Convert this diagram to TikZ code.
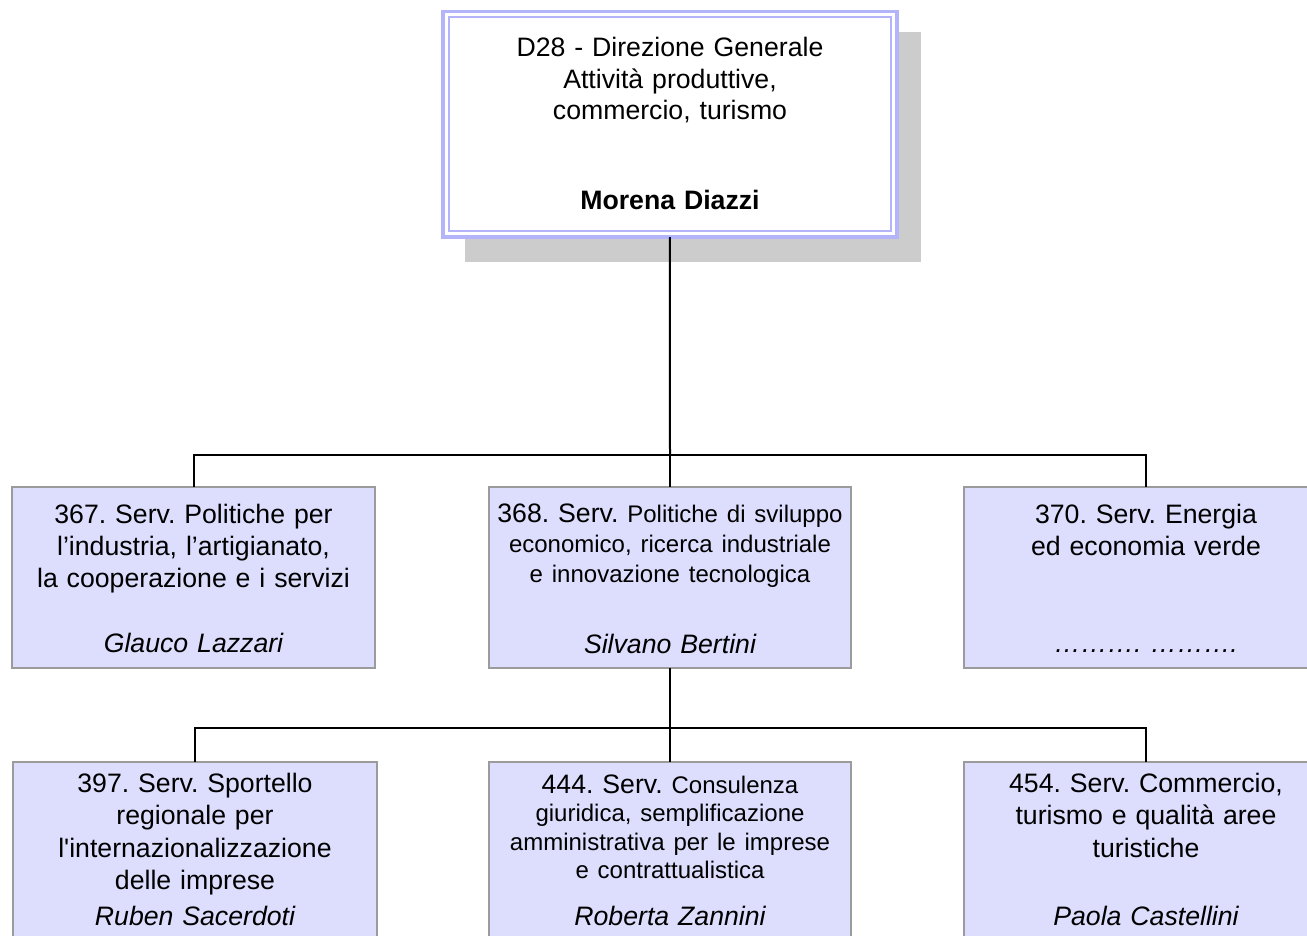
\documentclass[tikz,border=0pt]{standalone}
\usepackage{fontspec}
\newfontfamily\af{Liberation Sans}
\definecolor{boxfill}{RGB}{221,221,253}
\definecolor{boxline}{RGB}{155,155,155}
\definecolor{topline}{RGB}{180,180,250}
\definecolor{shade}{RGB}{204,204,204}
\frenchspacing
\begin{document}
\begin{tikzpicture}[x=1pt,y=-1pt,
  svcbox/.style={draw=boxline, line width=2pt, fill=boxfill, minimum width=#1, minimum height=181, inner sep=0, outer sep=0},
  lowbox/.style={draw=boxline, line width=2pt, fill=boxfill, minimum width=#1, minimum height=182, inner sep=0, outer sep=0},
  topbox/.style={draw=topline, line width=3.5pt, fill=white, minimum width=454, minimum height=225.5, inner sep=0, outer sep=0},
  shadowbox/.style={fill=shade, minimum width=456, minimum height=230, inner sep=0, outer sep=0},
  conn/.style={line width=2pt, black},
  txt/.style={font=\af\frenchspacing\fontsize{26.67}{32}\selectfont, align=center, text width=360pt, inner sep=0, anchor=base},
  txtb/.style={txt, font=\af\frenchspacing\fontsize{26.67}{32.5}\selectfont},
  who/.style={txt, font=\af\itshape\fontsize{26.67}{32}\selectfont},
]
\useasboundingbox (0,0) rectangle (1307,936);
\clip (0,0) rectangle (1307,936);
\fill[white] (0,0) rectangle (1307,936);

% shadow and top box
\node[shadowbox] (shadow) at (693,147) {};
\node[topbox] (top) at (669.75,124.5) {};
\draw[topline, line width=2pt] ([shift={(5.75,5.75)}]top.north west) rectangle ([shift={(-5.75,-5.75)}]top.south east);

% level 2 boxes
\node[svcbox=363] (b367) at (193.5,577.5) {};
\node[svcbox=362] (b368) at (670,577.5) {};
\node[svcbox=364] (b370) at (1146,577.5) {};

% level 3 boxes
\node[lowbox=364] (b397) at (195,853) {};
\node[lowbox=362] (b444) at (670,853) {};
\node[lowbox=364] (b454) at (1146,853) {};

% connectors
\coordinate (j1) at (670,455);
\coordinate (j2) at (670,728);
\draw[conn] (top.south) -- (j1);
\draw[conn] (b367.north) |- (j1) -| (b370.north);
\draw[conn] (j1) -- (b368.north);
\draw[conn] (b368.south) -- (j2);
\draw[conn] (b397.north) |- (j2) -| (b454.north);
\draw[conn] (j2) -- (b444.north);

% texts
\node[txt, font=\af\frenchspacing\fontsize{26.67}{31.5}\selectfont] (ttop) at (670,57) {D28 - Direzione Generale\\Attività produttive,\\commercio, turismo};
\node[txt, font=\af\bfseries\fontsize{26.67}{32}\selectfont] (ntop) at (670,210) {Morena Diazzi};

\node[txt] (t367) at (193.5,523) {367. Serv. Politiche per\\l’industria, l’artigianato,\\la cooperazione e i servizi};
\node[who] (n367) at (193.5,652) {Glauco Lazzari};

\node[txt, font=\af\frenchspacing\fontsize{26.67}{30}\selectfont] (t368) at (670,522) {368. Serv. {\fontsize{24}{30}\selectfont Politiche di sviluppo\\economico, ricerca industriale\\e innovazione tecnologica}};
\node[who] (n368) at (670,653) {Silvano Bertini};

\node[txt] (t370) at (1146,523) {370. Serv. Energia\\ed economia verde};
\node[who] (n370) at (1146,652) {………. ……….};

\node[txtb] (t397) at (195,792) {397. Serv. Sportello\\regionale per\\l'internazionalizzazione\\delle imprese};
\node[who] (n397) at (195,925) {Ruben Sacerdoti};

\node[txt, font=\af\frenchspacing\fontsize{26.67}{28.5}\selectfont] (t444) at (670,793) {444. Serv. {\fontsize{24}{28.5}\selectfont Consulenza\\giuridica, semplificazione\\amministrativa per le imprese\\e contrattualistica}};
\node[who] (n444) at (670,925) {Roberta Zannini};

\node[txtb] (t454) at (1146,792) {454. Serv. Commercio,\\turismo e qualità aree\\turistiche};
\node[who] (n454) at (1146,925) {Paola Castellini};
\end{tikzpicture}
\end{document}
